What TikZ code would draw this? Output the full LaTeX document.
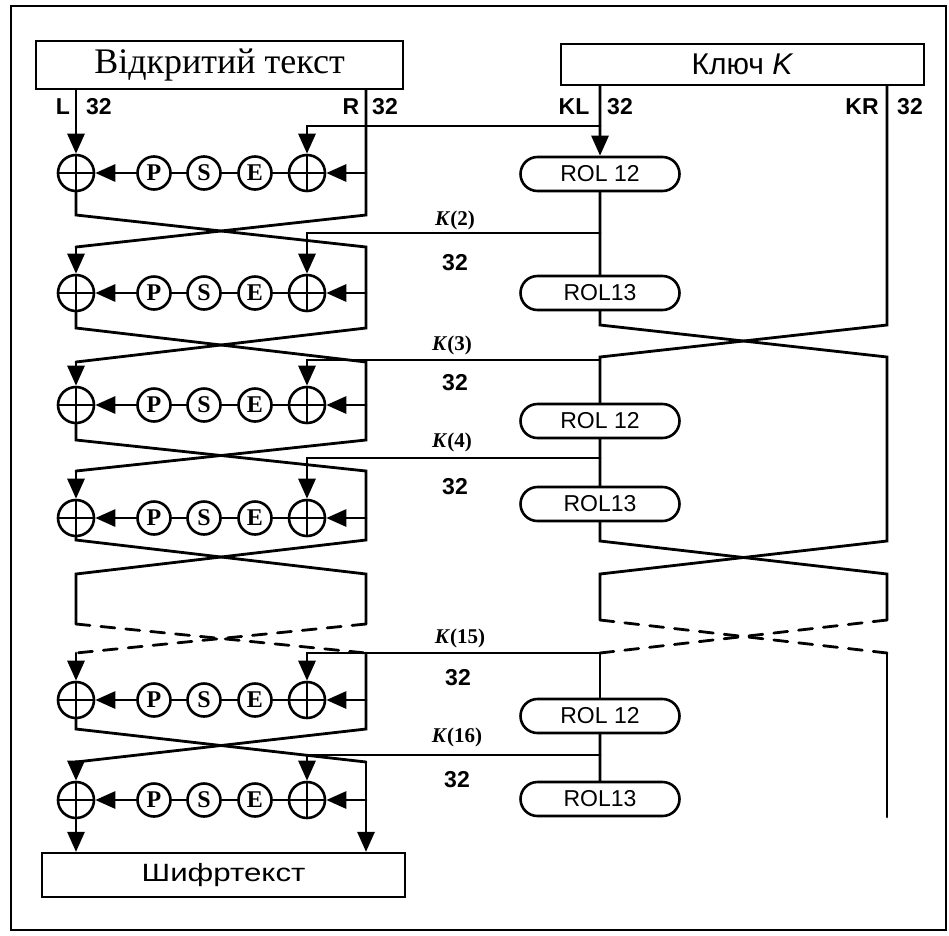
\documentclass[tikz,border=0pt]{standalone}
\usepackage{fontspec}
\setmainfont{Liberation Serif}
\setsansfont{Liberation Sans}
\usepackage{graphicx}
\usetikzlibrary{arrows.meta,shapes.misc}
\begin{document}
\begin{tikzpicture}[x=1pt,y=-1pt,line width=2.8pt,line cap=round,
  arr/.style={-{Triangle[length=20pt,width=17pt]}},
  dsh/.style={dash pattern=on 14pt off 11pt},
  box/.style={draw,rectangle,line width=2.2pt,inner sep=0pt},
  xor/.style={circle,draw,line width=2.6pt,minimum size=36pt,inner sep=0pt,
    path picture={\draw[line width=2.6pt] (path picture bounding box.north) -- (path picture bounding box.south)
      (path picture bounding box.west) -- (path picture bounding box.east);}},
  fn/.style={circle,draw,line width=2.6pt,minimum size=33pt,inner sep=0pt,
    font=\bfseries\fontsize{24}{26}\selectfont},
  rol/.style={rounded rectangle,draw,line width=2.6pt,minimum width=159pt,minimum height=34pt,
    inner sep=0pt,font=\sffamily\fontsize{23}{25}\selectfont},
  lab/.style={font=\sffamily\bfseries\fontsize{23}{25}\selectfont,inner sep=0pt},
  klab/.style={font=\bfseries\fontsize{21}{23}\selectfont,inner sep=0pt}]
\useasboundingbox (0,0) rectangle (949,935);
\draw[line width=2.8pt] (11,6) rectangle (946,930);

% boxes
\node[box,minimum width=367pt,minimum height=48pt,font=\fontsize{36}{40}\selectfont] (pt) at (219.5,65) {Відкритий текст};
\node[box,minimum width=363pt,minimum height=41pt,font=\sffamily\fontsize{30}{34}\selectfont] (kb) at (742.5,64.5) {Ключ \textit{K}};
\node[box,minimum width=363pt,minimum height=44pt,font=\sffamily\fontsize{25}{28}\selectfont] (ct) at (223.5,875) {\scalebox{1.25}[1]{Шифртекст}};

% top labels
\node[lab] (lL) at (63,107) {L};
\node[lab] (lL32) at (99,107) {32};
\node[lab] (lR) at (351,107) {R};
\node[lab] (lR32) at (385,107) {32};
\node[lab] (lKL) at (574,107) {KL};
\node[lab] (lKL32) at (620,107) {32};
\node[lab] (lKR) at (862,107) {KR};
\node[lab] (lKR32) at (910,107) {32};

% rounds
\foreach \n/\y in {1/173,2/293,3/405,4/518,15/700,16/800} {
  \node[xor] (xl\n) at (76,\y) {};
  \node[xor] (xr\n) at (307,\y) {};
  \node[fn] (p\n) at (154,\y) {P};
  \node[fn] (s\n) at (204,\y) {S};
  \node[fn] (e\n) at (255,\y) {E};
  \coordinate (rb\n) at (366,\y);
  \draw (xr\n) -- (e\n);
  \draw (e\n) -- (s\n);
  \draw (s\n) -- (p\n);
  \draw[arr] (p\n) -- (xl\n);
  \draw[arr] (rb\n) -- (xr\n);
}

% data path coordinates
\coordinate (c1l) at (76,215);  \coordinate (c1r) at (366,215);
\coordinate (t2l) at (76,247);  \coordinate (t2r) at (366,247);
\coordinate (c2l) at (76,328);  \coordinate (c2r) at (366,328);
\coordinate (t3l) at (76,362);  \coordinate (t3r) at (366,362);
\coordinate (c3l) at (76,440);  \coordinate (c3r) at (366,440);
\coordinate (t4l) at (76,471);  \coordinate (t4r) at (366,471);
\coordinate (c4l) at (76,540);  \coordinate (c4r) at (366,540);
\coordinate (t5l) at (76,574);  \coordinate (t5r) at (366,574);
\coordinate (d5l) at (76,624);  \coordinate (d5r) at (366,624);
\coordinate (t15l) at (76,653); \coordinate (t15r) at (366,653);
\coordinate (c15l) at (76,729); \coordinate (c15r) at (366,729);
\coordinate (t16l) at (76,762); \coordinate (t16r) at (366,762);

\draw[arr] (pt.south -| xl1) -- (xl1);
\draw (pt.south -| rb1) -- (c1r) -- (t2l);
\draw (xl1) -- (c1l) -- (t2r) -- (c2r) -- (t3l);
\draw[arr] (t2l) -- (xl2);
\draw (xl2) -- (c2l) -- (t3r) -- (c3r) -- (t4l);
\draw[arr] (t3l) -- (xl3);
\draw (xl3) -- (c3l) -- (t4r) -- (c4r) -- (t5l) -- (d5l);
\draw[arr] (t4l) -- (xl4);
\draw (xl4) -- (c4l) -- (t5r) -- (d5r);
\draw[dsh] (d5l) -- (t15r);
\draw[dsh] (d5r) -- (t15l);
\draw[arr] (t15l) -- (xl15);
\draw (t15r) -- (c15r) -- (t16l);
\draw (xl15) -- (c15l) -- (t16r);
\draw[arr] (t16l) -- (xl16);
\draw[arr] (t16r) -- (ct.north -| t16r);
\draw[arr] (xl16) -- (ct.north -| xl16);

% key schedule
\node[rol] (rA) at (600,174) {ROL 12};
\node[rol] (rB) at (600,293) {ROL13};
\node[rol] (rC) at (600,421) {ROL 12};
\node[rol] (rD) at (600,504) {ROL13};
\node[rol] (rE) at (600,716) {ROL 12};
\node[rol] (rF) at (600,799) {ROL13};

\coordinate (k1) at (600,126);
\coordinate (k2) at (600,233);
\coordinate (k3) at (600,360);
\coordinate (k4) at (600,458);
\coordinate (k16) at (600,755);
\coordinate (kc1l) at (600,325); \coordinate (kc1r) at (887,325);
\coordinate (kt2l) at (600,357); \coordinate (kt2r) at (887,357);
\coordinate (kc2l) at (600,541); \coordinate (kc2r) at (887,541);
\coordinate (kt3l) at (600,574); \coordinate (kt3r) at (887,574);
\coordinate (kd1l) at (600,620); \coordinate (kd1r) at (887,620);
\coordinate (kt4l) at (600,653); \coordinate (kt4r) at (887,653);
\coordinate (kend) at (887,817);

\draw[arr] (kb.south -| rA) -- (rA);
\draw (rA) -- (rB);
\draw (rB) -- (kc1l) -- (kt2r) -- (kc2r) -- (kt3l) -- (kd1l);
\draw (kb.south -| kc1r) -- (kc1r) -- (kt2l) -- (rC);
\draw (rC) -- (rD);
\draw (rD) -- (kc2l) -- (kt3r) -- (kd1r);
\draw[dsh] (kd1l) -- (kt4r);
\draw[dsh] (kd1r) -- (kt4l);
\draw (kt4l) -- (rE);
\draw (rE) -- (rF);
\draw (kt4r) -- (kend);

% round keys
\draw[arr] (k1) -| (xr1);
\draw[arr] (k2) -| (xr2);
\draw[arr] (k3) -| (xr3);
\draw[arr] (k4) -| (xr4);
\draw[arr] (kt4l) -| (xr15);
\draw[arr] (k16) -| (xr16);

% key labels
\node[klab] (K2) at (455,220) {\textit{K}(2)};
\node[lab] (n2) at (455,263) {32};
\node[klab] (K3) at (452,345) {\textit{K}(3)};
\node[lab] (n3) at (455,383) {32};
\node[klab] (K4) at (452,442) {\textit{K}(4)};
\node[lab] (n4) at (455,487) {32};
\node[klab] (K15) at (460,638) {\textit{K}(15)};
\node[lab] (n15) at (458,678) {32};
\node[klab] (K16) at (457,737) {\textit{K}(16)};
\node[lab] (n16) at (457,780) {32};
\end{tikzpicture}
\end{document}
